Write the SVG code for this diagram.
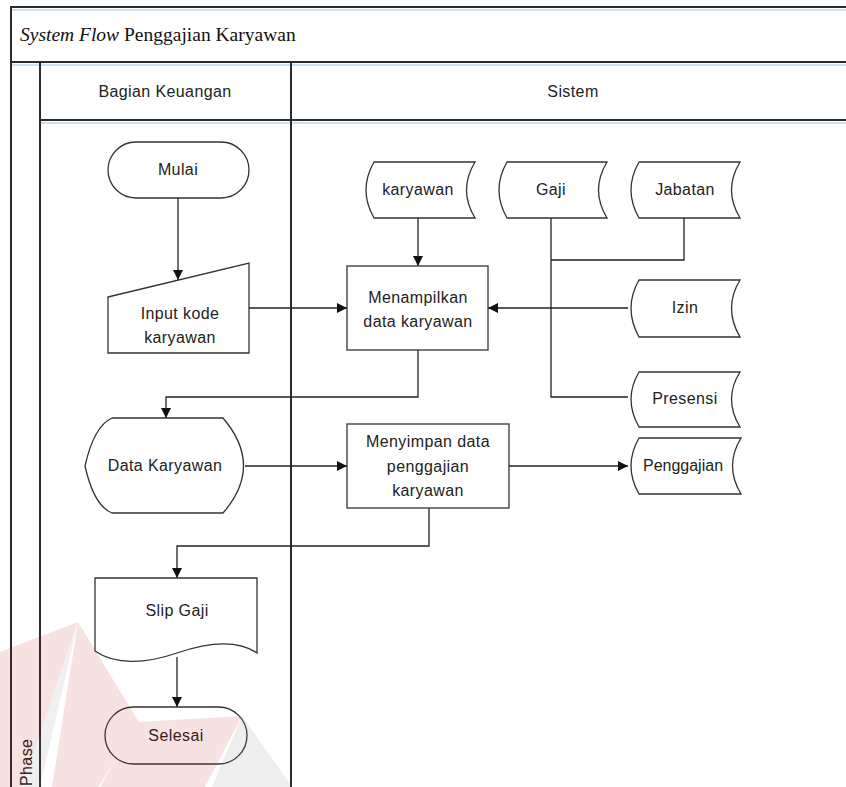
<svg xmlns="http://www.w3.org/2000/svg" width="846" height="787" viewBox="0 0 846 787">
  <defs>
    <marker id="arr" viewBox="0 0 10 10" refX="10" refY="5" markerWidth="10" markerHeight="10" markerUnits="userSpaceOnUse" orient="auto">
      <path d="M0,0 L10,5 L0,10 Z" fill="#111"/>
    </marker>
    <style>
      .frame { stroke: #2b2b2b; stroke-width: 2; fill: none; }
      .shade { stroke: #cfe0f1; stroke-width: 2; fill: none; }
      .node { fill: #fff; stroke: #333; stroke-width: 1.3; }
      .lbl { font-family: "Liberation Sans", Arial, sans-serif; font-size: 16px; letter-spacing: 0.4px; fill: #222; text-anchor: middle; }
      .conn { fill: none; stroke: #222; stroke-width: 1.3; }
      .title { font-family: "Liberation Serif", "Times New Roman", serif; font-size: 19.5px; fill: #111; }
    </style>
  </defs>

  <rect width="846" height="787" fill="#fff"/>

  <!-- swimlane frame -->
  <g id="pool">
    <line class="shade" x1="12" y1="10" x2="846" y2="10"/>
    <line class="shade" x1="12" y1="65" x2="846" y2="65"/>
    <line class="shade" x1="41" y1="123" x2="846" y2="123"/>
    <line class="frame" x1="11" y1="7" x2="846" y2="7"/>
    <line class="frame" x1="11" y1="6" x2="11" y2="787"/>
    <line class="frame" x1="11" y1="62" x2="846" y2="62"/>
    <line class="frame" x1="40" y1="62" x2="40" y2="787"/>
    <line class="frame" x1="40" y1="120" x2="846" y2="120"/>
    <line class="frame" x1="291" y1="62" x2="291" y2="787" stroke-width="2.5"/>
    <text class="title" x="20" y="41"><tspan font-style="italic">System Flow</tspan> Penggajian Karyawan</text>
    <text class="lbl" x="165" y="97">Bagian Keuangan</text>
    <text class="lbl" x="573" y="97">Sistem</text>
    <text class="lbl" x="0" y="0" style="text-anchor:start" transform="translate(32,786) rotate(-90)">Phase</text>
  </g>

  <!-- connectors -->
  <g id="connectors">
    <path class="conn" d="M178,198 L178,280" marker-end="url(#arr)"/>
    <path class="conn" d="M249,308 L347,308" marker-end="url(#arr)"/>
    <path class="conn" d="M418,218 L418,266" marker-end="url(#arr)"/>
    <path class="conn" d="M551,218 L551,397 L628,397"/>
    <path class="conn" d="M684,218 L684,260 L551,260"/>
    <path class="conn" d="M628,308 L488,308" stroke-width="2" marker-end="url(#arr)"/>
    <path class="conn" d="M418,350 L418,397 L166,397 L166,418" marker-end="url(#arr)"/>
    <path class="conn" d="M245,466 L347,466" marker-end="url(#arr)"/>
    <path class="conn" d="M509,466 L628,466" marker-end="url(#arr)"/>
    <path class="conn" d="M429,508 L429,546 L177,546 L177,578" marker-end="url(#arr)"/>
    <path class="conn" d="M177,657 L177,707" marker-end="url(#arr)"/>
  </g>

  <!-- Bagian Keuangan lane -->
  <g id="mulai">
    <rect class="node" x="108" y="142" width="141" height="56" rx="28"/>
    <text class="lbl" x="178" y="175">Mulai</text>
  </g>
  <g id="input-kode">
    <path class="node" d="M108,297 L249,263 L249,353 L108,353 Z"/>
    <text class="lbl" x="180" y="319">Input kode</text>
    <text class="lbl" x="180" y="343">karyawan</text>
  </g>
  <g id="data-karyawan">
    <path class="node" d="M85,466 Q94,426 112,418 L223,418 Q264,466 223,513 L112,513 Q94,506 85,466 Z"/>
    <text class="lbl" x="165" y="471">Data Karyawan</text>
  </g>
  <g id="slip-gaji">
    <path class="node" d="M95,578 L257,578 L257,653 C238,640 212,641 177,653 C145,664 115,665 95,651 Z"/>
    <text class="lbl" x="177" y="616">Slip Gaji</text>
  </g>
  <g id="selesai">
    <rect class="node" x="105" y="707" width="142" height="57" rx="28.5"/>
    <text class="lbl" x="176" y="741">Selesai</text>
  </g>

  <!-- Sistem lane -->
  <g id="menampilkan">
    <rect class="node" x="347" y="266" width="141" height="84"/>
    <text class="lbl" x="418" y="303">Menampilkan</text>
    <text class="lbl" x="418" y="327">data karyawan</text>
  </g>
  <g id="menyimpan">
    <rect class="node" x="347" y="424" width="162" height="84"/>
    <text class="lbl" x="428" y="447">Menyimpan data</text>
    <text class="lbl" x="428" y="472">penggajian</text>
    <text class="lbl" x="428" y="496">karyawan</text>
  </g>
  <g id="db-karyawan">
    <path class="node" d="M374,162 L475,162 Q458,190 475,218 L374,218 Q358,190 374,162 Z"/>
    <text class="lbl" x="418" y="195">karyawan</text>
  </g>
  <g id="db-gaji">
    <path class="node" d="M507,162 L607,162 Q590,190 607,218 L507,218 Q491,190 507,162 Z"/>
    <text class="lbl" x="551" y="195">Gaji</text>
  </g>
  <g id="db-jabatan">
    <path class="node" d="M639,162 L740,162 Q723,190 740,218 L639,218 Q623,190 639,162 Z"/>
    <text class="lbl" x="685" y="195">Jabatan</text>
  </g>
  <g id="db-izin">
    <path class="node" d="M639,280 L740,280 Q723,308 740,337 L639,337 Q623,308 639,280 Z"/>
    <text class="lbl" x="685" y="313">Izin</text>
  </g>
  <g id="db-presensi">
    <path class="node" d="M639,372 L740,372 Q723,399 740,427 L639,427 Q623,399 639,372 Z"/>
    <text class="lbl" x="685" y="404">Presensi</text>
  </g>
  <g id="db-penggajian">
    <path class="node" d="M639,438 L741,438 Q724,466 741,494 L639,494 Q623,466 639,438 Z"/>
    <text class="lbl" x="683" y="471" style="letter-spacing:0">Penggajian</text>
  </g>

  <!-- faint background emblem -->
  <g id="emblem" opacity="0.12">
    <polygon points="0,652 78,622 22,787 0,787" fill="#c0181e"/>
    <polygon points="78,622 140,724 98,787 52,787" fill="#c0181e"/>
    <polygon points="138,722 242,716 205,787 100,787" fill="#c0181e"/>
    <polygon points="242,716 292,787 212,787" fill="#777"/>
    <polygon points="78,622 22,787 40,787" fill="#888"/>
  </g>
</svg>
